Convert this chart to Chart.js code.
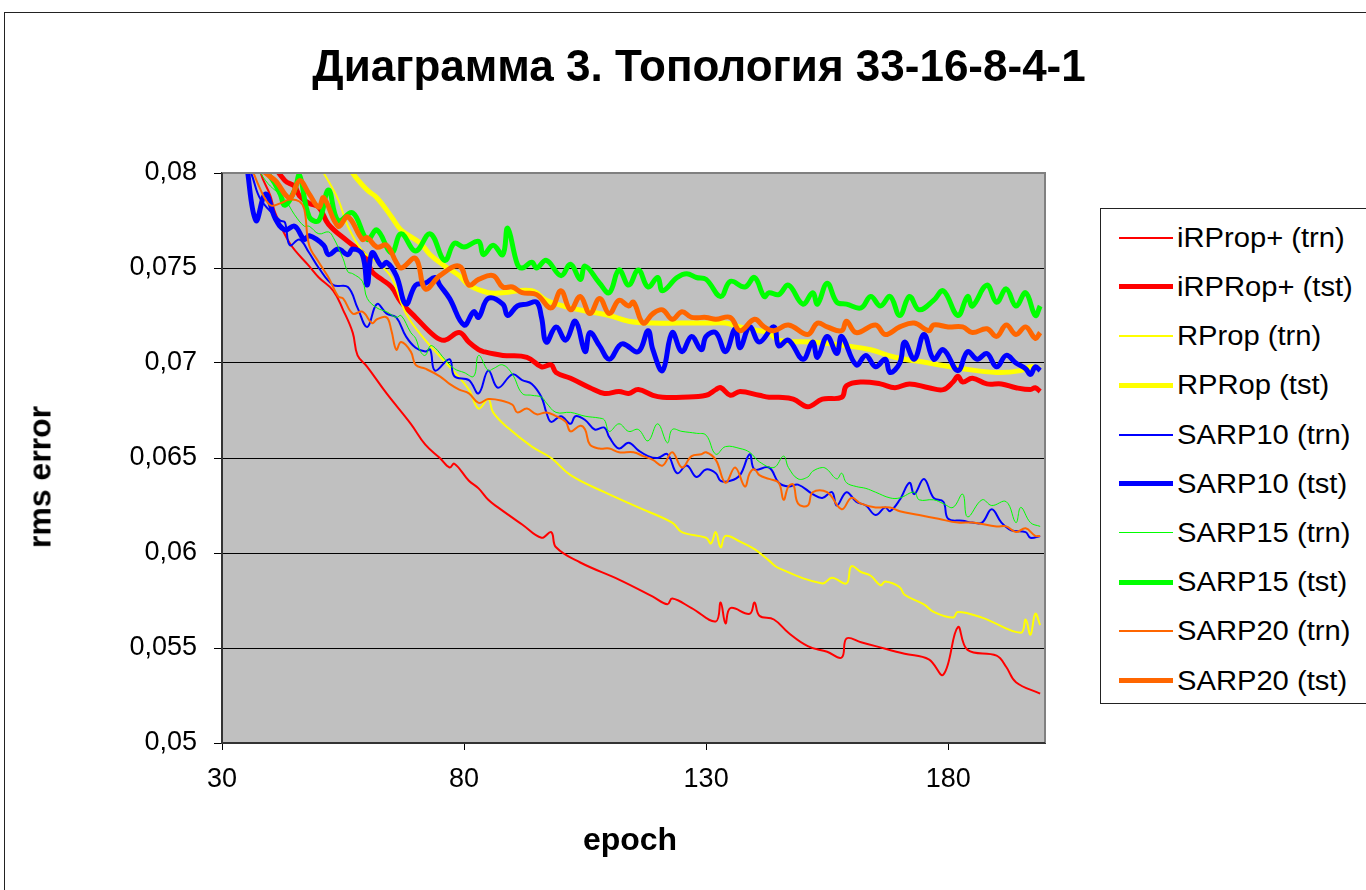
<!DOCTYPE html>
<html>
<head>
<meta charset="utf-8">
<script src="https://cdn.jsdelivr.net/npm/chart.js@4.4.1/dist/chart.umd.min.js"></script>
<style>
  html, body { margin: 0; padding: 0; background: #fff; width: 1366px; height: 890px; overflow: hidden;
               font-family: "Liberation Sans", Arial, sans-serif; }
  #frame { position: absolute; left: 4px; top: 12px; width: 1420px; height: 940px; border: 1px solid #222; }
  #chart { position: absolute; left: 0; top: 0; }
  #title { position: absolute; left: 0; width: 1398px; top: 40px; text-align: center; font-weight: bold;
           font-size: 44px; line-height: 52px; white-space: nowrap; }
  #ytitle { position: absolute; left: 40px; top: 477px; font-weight: bold; font-size: 32px; white-space: nowrap;
            transform: translate(-50%, -50%) rotate(-90deg); }
  #xtitle { position: absolute; left: 630px; top: 839px; font-weight: bold; font-size: 32px; white-space: nowrap;
            transform: translate(-50%, -50%); }
  #legend { position: absolute; left: 1100px; top: 208px; width: 300px; height: 494px; border: 1px solid #222;
            background: #fff; }
  .row { position: absolute; left: 0; height: 0; }
  .swatch { position: absolute; left: 18px; width: 54px; }
  .label { position: absolute; left: 76px; top: -17px; font-size: 27px; line-height: 34px; white-space: nowrap;
           transform-origin: left center; transform: scaleX(1.08); }
</style>
</head>
<body>
<div id="frame"></div>
<canvas id="chart" width="1366" height="890"></canvas>
<div id="title">Диаграмма 3. Топология 33-16-8-4-1</div>
<div id="ytitle">rms error</div>
<div id="xtitle">epoch</div>
<div id="legend"></div>
<script>
// epoch / rms error pairs for every curve
const iRPropTrn = [[35,0.0835],[38,0.0800],[40,0.0788],[41,0.0779],[44,0.0763],[48,0.0751],[50,0.0745],[53,0.0738],[55,0.0728],[57,0.0716],[58,0.0704],[60,0.0698],[64,0.0684],[69,0.0668],[72,0.0657],[75,0.0650],[77,0.0645],[78,0.0647],[81,0.0638],[83,0.0634],[85,0.0628],[87,0.0624],[92,0.0615],[96,0.0608],[98,0.0611],[99,0.0603],[104,0.0595],[112,0.0586],[119,0.0577],[122,0.0573],[123,0.0576],[127,0.0571],[132,0.0564],[133,0.0574],[134,0.0563],[135,0.0571],[139,0.0568],[140,0.0574],[141,0.0567],[144,0.0565],[147,0.0558],[151,0.0551],[155,0.0548],[158,0.0545],[159,0.0555],[162,0.0553],[165,0.0551],[171,0.0547],[176,0.0544],[179,0.0536],[182,0.0561],[184,0.0549],[190,0.0546],[192,0.0540],[194,0.0532],[199,0.0526]];

const iRPRopTst = [[39,0.0810],[43,0.0796],[45,0.0793],[46,0.0788],[48,0.0784],[50,0.0782],[52,0.0773],[56,0.0764],[59,0.0758],[60,0.0754],[61,0.0748],[63,0.0744],[65,0.0740],[67,0.0732],[70,0.0724],[74,0.0714],[76,0.0712],[79,0.0716],[81,0.0711],[83,0.0707],[84,0.0706],[88,0.0704],[93,0.0703],[96,0.0698],[98,0.0699],[99,0.0695],[102,0.0692],[106,0.0687],[109,0.0684],[112,0.0685],[114,0.0684],[116,0.0686],[119,0.0683],[121,0.0682],[125,0.0682],[130,0.0683],[132,0.0686],[133,0.0687],[135,0.0683],[137,0.0685],[141,0.0683],[143,0.0682],[145,0.0682],[148,0.0681],[151,0.0677],[154,0.0681],[158,0.0682],[159,0.0688],[162,0.0690],[166,0.0689],[169,0.0687],[172,0.0689],[176,0.0687],[179,0.0686],[181,0.0690],[182,0.0693],[183,0.0690],[185,0.0692],[188,0.0689],[191,0.0689],[194,0.0687],[197,0.0686],[198,0.0687],[199,0.0685]];

const rPropTrn = [[49,0.0808],[51,0.0800],[54,0.0786],[56,0.0772],[59,0.0759],[62,0.0753],[65,0.0745],[68,0.0726],[72,0.0712],[77,0.0698],[81,0.0686],[83,0.0676],[85,0.0681],[86,0.0674],[89,0.0666],[94,0.0656],[98,0.0650],[102,0.0641],[109,0.0632],[116,0.0624],[123,0.0616],[125,0.0611],[130,0.0608],[131,0.0605],[132,0.0611],[133,0.0603],[134,0.0609],[137,0.0606],[140,0.0602],[143,0.0596],[145,0.0592],[154,0.0584],[156,0.0587],[159,0.0584],[160,0.0593],[162,0.0590],[164,0.0588],[166,0.0583],[167,0.0585],[170,0.0582],[171,0.0578],[175,0.0573],[177,0.0569],[181,0.0566],[182,0.0569],[187,0.0566],[195,0.0558],[196,0.0565],[197,0.0557],[198,0.0568],[199,0.0562]];

const rPRopTst = [[56,0.0806],[57,0.0800],[60,0.0791],[62,0.0787],[65,0.0777],[67,0.0770],[71,0.0763],[73,0.0757],[76,0.0751],[79,0.0746],[81,0.0741],[85,0.0737],[88,0.0737],[94,0.0738],[97,0.0733],[102,0.0729],[106,0.0727],[110,0.0725],[114,0.0722],[119,0.0721],[124,0.0721],[130,0.0721],[134,0.0721],[137,0.0719],[141,0.0717],[143,0.0716],[145,0.0712],[152,0.0711],[159,0.0709],[164,0.0707],[169,0.0703],[176,0.0700],[183,0.0697],[190,0.0695],[195,0.0696],[197,0.0698],[199,0.0697]];

const sarp10Trn = [[34,0.0810],[36,0.0800],[38,0.0786],[42,0.0775],[43,0.0774],[44,0.0762],[46,0.0765],[48,0.0758],[50,0.0750],[53,0.0741],[56,0.0740],[58,0.0729],[60,0.0719],[62,0.0731],[64,0.0726],[66,0.0724],[68,0.0714],[70,0.0708],[72,0.0706],[73,0.0707],[74,0.0696],[77,0.0702],[78,0.0693],[81,0.0691],[83,0.0684],[85,0.0696],[87,0.0687],[90,0.0694],[92,0.0691],[94,0.0689],[96,0.0682],[97,0.0674],[98,0.0669],[100,0.0672],[102,0.0668],[103,0.0672],[105,0.0670],[107,0.0665],[109,0.0666],[110,0.0661],[112,0.0655],[114,0.0658],[116,0.0654],[118,0.0651],[120,0.0650],[122,0.0652],[124,0.0642],[126,0.0646],[128,0.0640],[130,0.0644],[132,0.0642],[133,0.0638],[135,0.0638],[137,0.0641],[139,0.0652],[140,0.0644],[143,0.0645],[145,0.0637],[147,0.0635],[149,0.0636],[152,0.0631],[154,0.0629],[156,0.0632],[157,0.0625],[159,0.0632],[161,0.0627],[163,0.0625],[165,0.0620],[167,0.0624],[168,0.0622],[170,0.0628],[172,0.0637],[173,0.0631],[175,0.0639],[177,0.0629],[179,0.0627],[180,0.0618],[183,0.0617],[185,0.0616],[187,0.0616],[189,0.0623],[191,0.0616],[193,0.0612],[196,0.0611],[197,0.0608],[199,0.0609]];

const sarp10Tst = [[35,0.0806],[37,0.0775],[39,0.0789],[41,0.0776],[43,0.0770],[45,0.0772],[47,0.0765],[48,0.0767],[51,0.0762],[52,0.0757],[54,0.0760],[56,0.0757],[57,0.0760],[59,0.0757],[60,0.0741],[61,0.0758],[63,0.0751],[64,0.0753],[66,0.0746],[68,0.0731],[70,0.0741],[72,0.0742],[74,0.0745],[75,0.0741],[77,0.0734],[80,0.0720],[82,0.0727],[83,0.0724],[85,0.0734],[88,0.0731],[89,0.0725],[91,0.0730],[93,0.0731],[95,0.0732],[96,0.0724],[97,0.0711],[99,0.0719],[101,0.0712],[103,0.0722],[105,0.0706],[106,0.0716],[108,0.0709],[110,0.0702],[112,0.0709],[113,0.0710],[116,0.0706],[118,0.0717],[119,0.0707],[121,0.0696],[123,0.0716],[125,0.0706],[127,0.0714],[129,0.0707],[130,0.0714],[132,0.0716],[134,0.0706],[136,0.0718],[137,0.0708],[139,0.0719],[141,0.0711],[144,0.0719],[145,0.0709],[147,0.0712],[150,0.0702],[152,0.0711],[153,0.0703],[155,0.0714],[157,0.0705],[158,0.0714],[161,0.0699],[163,0.0704],[165,0.0698],[167,0.0702],[168,0.0695],[170,0.0700],[171,0.0711],[173,0.0702],[175,0.0715],[177,0.0702],[179,0.0707],[182,0.0696],[184,0.0706],[186,0.0702],[188,0.0705],[190,0.0698],[192,0.0704],[194,0.0700],[196,0.0697],[197,0.0694],[198,0.0698],[199,0.0696]];

const sarp15Trn = [[36,0.0810],[39,0.0796],[43,0.0786],[45,0.0778],[47,0.0772],[48,0.0772],[50,0.0768],[52,0.0769],[53,0.0766],[55,0.0755],[56,0.0748],[57,0.0747],[59,0.0743],[60,0.0734],[62,0.0729],[64,0.0727],[66,0.0724],[67,0.0725],[69,0.0716],[70,0.0713],[71,0.0706],[72,0.0704],[73,0.0709],[74,0.0708],[76,0.0702],[78,0.0697],[80,0.0695],[82,0.0693],[83,0.0704],[85,0.0696],[86,0.0697],[88,0.0699],[90,0.0694],[92,0.0684],[94,0.0683],[96,0.0682],[97,0.0679],[99,0.0674],[102,0.0674],[105,0.0672],[108,0.0671],[109,0.0670],[110,0.0664],[112,0.0668],[114,0.0664],[116,0.0665],[118,0.0659],[120,0.0668],[122,0.0658],[123,0.0665],[125,0.0664],[128,0.0663],[130,0.0662],[132,0.0652],[134,0.0656],[137,0.0655],[139,0.0653],[141,0.0648],[144,0.0645],[146,0.0651],[147,0.0645],[149,0.0639],[151,0.0640],[152,0.0643],[154,0.0645],[155,0.0644],[157,0.0639],[158,0.0642],[159,0.0637],[161,0.0635],[163,0.0634],[165,0.0632],[168,0.0629],[170,0.0629],[173,0.0632],[174,0.0628],[177,0.0628],[179,0.0626],[181,0.0624],[183,0.0631],[184,0.0619],[187,0.0628],[189,0.0625],[192,0.0627],[194,0.0616],[195,0.0624],[197,0.0616],[199,0.0614]];

const sarp15Tst = [[37,0.0806],[40,0.0798],[42,0.0789],[43,0.0783],[45,0.0791],[46,0.0799],[48,0.0777],[50,0.0775],[52,0.0791],[54,0.0775],[57,0.0779],[60,0.0765],[62,0.0770],[65,0.0758],[67,0.0768],[70,0.0759],[73,0.0768],[76,0.0754],[78,0.0763],[80,0.0761],[83,0.0764],[84,0.0757],[86,0.0762],[88,0.0757],[89,0.0771],[91,0.0752],[92,0.0750],[94,0.0753],[95,0.0750],[97,0.0754],[100,0.0746],[102,0.0752],[104,0.0744],[105,0.0751],[108,0.0742],[110,0.0737],[112,0.0749],[114,0.0741],[116,0.0749],[118,0.0740],[120,0.0745],[121,0.0738],[124,0.0745],[126,0.0747],[128,0.0745],[130,0.0744],[133,0.0735],[135,0.0743],[138,0.0740],[140,0.0745],[142,0.0735],[143,0.0737],[145,0.0736],[147,0.0741],[150,0.0731],[152,0.0737],[153,0.0731],[155,0.0742],[157,0.0732],[159,0.0731],[162,0.0729],[164,0.0735],[166,0.0730],[168,0.0735],[170,0.0725],[172,0.0735],[174,0.0728],[177,0.0733],[179,0.0738],[182,0.0725],[184,0.0735],[185,0.0730],[188,0.0741],[190,0.0732],[192,0.0739],[194,0.0730],[196,0.0737],[198,0.0725],[199,0.0730]];

const sarp20Trn = [[35,0.0810],[38,0.0791],[40,0.0783],[42,0.0784],[44,0.0786],[46,0.0785],[47,0.0781],[48,0.0762],[50,0.0753],[52,0.0745],[54,0.0735],[55,0.0734],[57,0.0726],[59,0.0727],[61,0.0721],[62,0.0723],[64,0.0724],[65,0.0717],[66,0.0707],[67,0.0711],[69,0.0706],[70,0.0699],[72,0.0697],[75,0.0693],[77,0.0689],[79,0.0686],[81,0.0684],[83,0.0679],[85,0.0681],[88,0.0680],[90,0.0678],[91,0.0674],[93,0.0676],[95,0.0673],[97,0.0674],[99,0.0672],[101,0.0669],[102,0.0664],[104,0.0667],[105,0.0665],[106,0.0657],[108,0.0655],[110,0.0655],[112,0.0653],[115,0.0653],[117,0.0651],[119,0.0649],[121,0.0646],[123,0.0653],[125,0.0645],[127,0.0651],[129,0.0652],[130,0.0653],[132,0.0649],[134,0.0637],[136,0.0645],[138,0.0635],[139,0.0642],[140,0.0644],[141,0.0641],[143,0.0639],[145,0.0637],[146,0.0628],[147,0.0635],[148,0.0636],[149,0.0626],[151,0.0625],[152,0.0632],[155,0.0632],[158,0.0623],[160,0.0629],[162,0.0626],[165,0.0624],[168,0.0624],[170,0.0622],[174,0.0620],[178,0.0618],[182,0.0616],[185,0.0616],[190,0.0614],[192,0.0614],[194,0.0611],[196,0.0613],[198,0.0609],[199,0.0609]];

const sarp20Tst = [[36,0.0808],[39,0.0800],[41,0.0796],[44,0.0787],[46,0.0796],[48,0.0789],[50,0.0782],[51,0.0787],[54,0.0772],[56,0.0777],[59,0.0765],[60,0.0766],[62,0.0761],[64,0.0762],[66,0.0753],[67,0.0750],[70,0.0755],[72,0.0739],[75,0.0746],[79,0.0751],[81,0.0741],[83,0.0744],[86,0.0746],[88,0.0740],[90,0.0740],[92,0.0737],[95,0.0736],[98,0.0729],[100,0.0738],[102,0.0728],[104,0.0735],[106,0.0726],[108,0.0734],[110,0.0726],[112,0.0733],[114,0.0730],[115,0.0732],[117,0.0721],[119,0.0726],[121,0.0728],[123,0.0723],[125,0.0727],[127,0.0724],[130,0.0724],[132,0.0723],[135,0.0724],[137,0.0717],[140,0.0723],[142,0.0719],[144,0.0717],[147,0.0720],[151,0.0715],[153,0.0721],[155,0.0719],[158,0.0717],[159,0.0722],[161,0.0716],[165,0.0720],[167,0.0715],[170,0.0719],[173,0.0721],[176,0.0717],[177,0.0720],[180,0.0719],[183,0.0719],[185,0.0716],[188,0.0718],[190,0.0714],[192,0.0720],[194,0.0715],[196,0.0719],[198,0.0713],[199,0.0716]];

const seriesNames  = ['iRProp+ (trn)', 'iRPRop+ (tst)', 'RProp (trn)', 'RPRop (tst)', 'SARP10 (trn)',
                      'SARP10 (tst)', 'SARP15 (trn)', 'SARP15 (tst)', 'SARP20 (trn)', 'SARP20 (tst)'];
const seriesData   = [iRPropTrn, iRPRopTst, rPropTrn, rPRopTst, sarp10Trn, sarp10Tst, sarp15Trn, sarp15Tst, sarp20Trn, sarp20Tst];
const seriesColors = ['#FF0000', '#FF0000', '#FFFF00', '#FFFF00', '#0000FF', '#0000FF', '#00FF00', '#00FF00', '#FF6600', '#FF6600'];
const seriesWidths = [2, 5, 2, 5, 2, 5, 1, 5, 2, 5];

const xTicks = [30, 80, 130, 180];
const yTicks = [0.05, 0.055, 0.06, 0.065, 0.07, 0.075, 0.08];

const fmt = v => String(+v.toFixed(3)).replace('.', ',');

// grey plot background and frame of the plotting area
const plotArea = {
  id: 'plotArea',
  beforeDraw(chart) {
    const { ctx, chartArea: a } = chart;
    ctx.save();
    ctx.fillStyle = '#C0C0C0';
    ctx.fillRect(a.left, a.top, a.right - a.left, a.bottom - a.top);
    ctx.restore();
  },
  afterDatasetsDraw(chart) {
    const { ctx, chartArea: a } = chart;
    ctx.save();
    ctx.strokeStyle = '#808080';
    ctx.lineWidth = 2;
    ctx.beginPath();
    ctx.moveTo(a.left, a.top);
    ctx.lineTo(a.right, a.top);
    ctx.lineTo(a.right, a.bottom);
    ctx.stroke();
    ctx.strokeStyle = '#333';
    ctx.beginPath();
    ctx.moveTo(a.left, a.top);
    ctx.lineTo(a.left, a.bottom);
    ctx.lineTo(a.right, a.bottom);
    ctx.stroke();
    ctx.restore();
  }
};

const n = seriesNames.length;
const datasets = seriesNames.map((name, i) => ({
  label: name,
  data: seriesData[i].map(([x, y]) => ({ x, y })),
  borderColor: seriesColors[i],
  borderWidth: seriesWidths[i],
  pointRadius: 0,
  tension: 0.4,
  fill: false,
  clip: 0,
  order: n - 1 - i
}));

new Chart(document.getElementById('chart'), {
  type: 'line',
  data: { datasets },
  plugins: [plotArea],
  options: {
    responsive: false,
    animation: false,
    devicePixelRatio: 1,
    layout: { padding: { top: 173, right: 321, bottom: 0, left: 0 } },
    plugins: { legend: { display: false }, tooltip: { enabled: false } },
    scales: {
      x: {
        type: 'linear', min: 30, max: 200,
        afterFit: s => { s.height = 147; },
        afterBuildTicks: s => { s.ticks = xTicks.map(v => ({ value: v })); },
        grid: { display: true, drawOnChartArea: false, drawTicks: true, tickLength: 7, color: '#000', lineWidth: 1 },
        border: { display: true, color: '#333', width: 2 },
        ticks: { color: '#000', font: { family: 'Liberation Sans', size: 27 }, padding: 13, maxRotation: 0,
                 callback: v => String(v) }
      },
      y: {
        type: 'linear', min: 0.05, max: 0.08,
        afterFit: s => { s.width = 222; },
        afterBuildTicks: s => { s.ticks = yTicks.map(v => ({ value: v })); },
        grid: { color: '#000', lineWidth: 1, tickLength: 8, drawTicks: true },
        border: { display: true, color: '#333', width: 2 },
        ticks: { color: '#000', font: { family: 'Liberation Sans', size: 27 }, padding: 17,
                 callback: v => fmt(v) }
      }
    }
  }
});

// legend box
const legend = document.getElementById('legend');
seriesNames.forEach((name, i) => {
  const row = document.createElement('div');
  row.className = 'row';
  row.style.top = (28.7 + i * 49.2) + 'px';
  const sw = document.createElement('div');
  sw.className = 'swatch';
  sw.style.height = seriesWidths[i] + 'px';
  sw.style.top = (-seriesWidths[i] / 2) + 'px';
  sw.style.background = seriesColors[i];
  const lb = document.createElement('div');
  lb.className = 'label';
  lb.textContent = name;
  row.appendChild(sw);
  row.appendChild(lb);
  legend.appendChild(row);
});
</script>
</body>
</html>
